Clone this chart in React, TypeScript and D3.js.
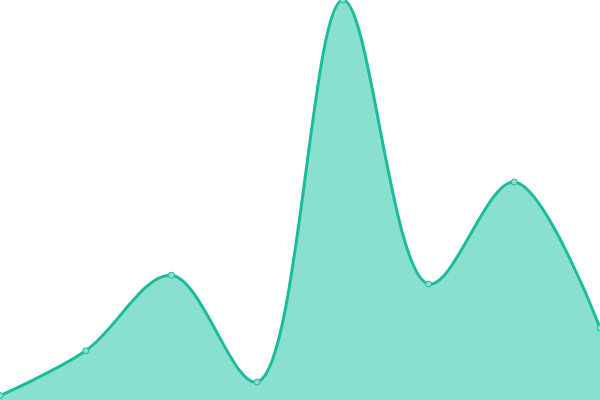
import * as d3 from "d3";

const width = 600;
const height = 400;

const categories = ["A", "B", "C", "D", "E", "F", "G", "H"];
const values = [1.1, 12.3, 31.2, 4.5, 100, 29, 54.5, 18];

const lineColor = "#1abc9c";
const fillColor = "#89e0cf";

type Point = { cat: string; value: number };

const data: Point[] = categories.map((cat, i) => ({ cat, value: values[i] }));

export default function App() {
  const x = d3.scalePoint<string>().domain(categories).range([0, width]);
  const y = d3.scaleLinear().domain([0, 100]).range([height, 0]);

  const curve = d3.curveCatmullRom.alpha(0.5);

  const area = d3
    .area<Point>()
    .x((d) => x(d.cat) ?? 0)
    .y0(height)
    .y1((d) => y(d.value))
    .curve(curve);

  const line = d3
    .line<Point>()
    .x((d) => x(d.cat) ?? 0)
    .y((d) => y(d.value))
    .curve(curve);

  return (
    <div style={{ position: "absolute", left: 0, top: 0 }}>
      <svg width={width} height={height} style={{ display: "block", overflow: "hidden" }}>
        <rect width={width} height={height} fill="#ffffff" />
        <path d={area(data) ?? ""} fill={fillColor} />
        <path d={line(data) ?? ""} fill="none" stroke={lineColor} strokeWidth={3} />
        {data.map((d) => (
          <circle
            key={d.cat}
            cx={x(d.cat) ?? 0}
            cy={y(d.value)}
            r={3}
            fill={fillColor}
            stroke={lineColor}
            strokeWidth={1}
          />
        ))}
      </svg>
    </div>
  );
}
